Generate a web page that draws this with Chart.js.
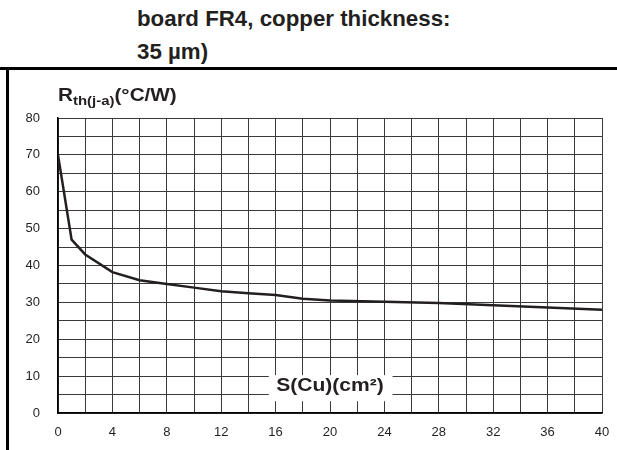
<!DOCTYPE html>
<html>
<head>
<meta charset="utf-8">
<script src="https://cdn.jsdelivr.net/npm/chart.js@4/dist/chart.umd.min.js"></script>
<style>
  html, body { margin: 0; padding: 0; background: #fff; }
  #wrap { position: relative; width: 617px; height: 450px; overflow: hidden; }
  .t { position: absolute; left: 137px; font: bold 22.3px "Liberation Sans", Arial, sans-serif; color: #231f20; white-space: nowrap; }
  #hline { position: absolute; left: 0; top: 67px; width: 617px; height: 3px; background: #000; }
  #vline { position: absolute; left: 6px; top: 67px; width: 3px; height: 383px; background: #000; }
  canvas { position: absolute; left: 0; top: 0; }
</style>
</head>
<body>
<div id="wrap">
  <div class="t" style="top:6px">board FR4, copper thickness:</div>
  <div class="t" style="top:39px">35 µm)</div>
  <div id="hline"></div>
  <div id="vline"></div>
  <canvas id="c" width="617" height="450"></canvas>
</div>
<script>
// Copper area S(Cu) in cm²
const areaCm2 = [0, 1, 2, 4, 6, 8, 10, 12, 14, 16, 18, 20, 24, 28, 32, 36, 40];
// Rth(j-a) in °C/W
const rthJA = [70, 47, 43, 38.2, 36, 35, 34, 33, 32.5, 32, 31, 30.5, 30.2, 29.8, 29.2, 28.6, 28];
const yAxisTitleMain = "R";
const yAxisTitleSub = "th(j-a)";
const yAxisTitleUnit = "(°C/W)";
const xAxisTitle = "S(Cu)(cm²)";

const FONT = '"Liberation Sans", Arial, sans-serif';

const labelsPlugin = {
  id: 'labelsPlugin',
  afterDatasetsDraw(chart) {
    const ctx = chart.ctx;
    const xs = chart.scales.x, ys = chart.scales.y;
    ctx.save();
    ctx.fillStyle = '#231f20';
    ctx.textBaseline = 'alphabetic';
    ctx.textAlign = 'left';
    // Y axis title with subscript
    const x0 = chart.chartArea.left;
    const sx = 1.15;
    ctx.translate(x0, 101);
    ctx.scale(sx, 1);
    ctx.font = 'bold 18px ' + FONT;
    ctx.fillText(yAxisTitleMain, 0, 0);
    let w = ctx.measureText(yAxisTitleMain).width;
    ctx.font = 'bold 13px ' + FONT;
    ctx.fillText(yAxisTitleSub, w, 4);
    w += ctx.measureText(yAxisTitleSub).width;
    ctx.font = 'bold 18px ' + FONT;
    ctx.fillText(yAxisTitleUnit, w, 0);
    ctx.restore();

    // X axis title in white box inside plot
    ctx.save();
    const bx0 = xs.getPixelForValue(15.5), bx1 = xs.getPixelForValue(24.6);
    const by0 = ys.getPixelForValue(10) - 1, by1 = ys.getPixelForValue(3.2);
    ctx.fillStyle = '#fff';
    ctx.fillRect(bx0, by0, bx1 - bx0, by1 - by0);
    ctx.fillStyle = '#231f20';
    ctx.font = 'bold 18px ' + FONT;
    ctx.textAlign = 'center';
    ctx.textBaseline = 'middle';
    ctx.translate(xs.getPixelForValue(20), ys.getPixelForValue(7.3));
    ctx.scale(1.17, 1);
    ctx.fillText(xAxisTitle, 0, 0);
    ctx.restore();
  }
};

new Chart(document.getElementById('c'), {
  type: 'line',
  data: {
    datasets: [{
      data: areaCm2.map((x, i) => ({ x: x, y: rthJA[i] })),
      borderColor: '#231f20',
      borderWidth: 2.5,
      pointRadius: 0,
      tension: 0,
      fill: false
    }]
  },
  options: {
    responsive: false,
    animation: false,
    devicePixelRatio: 1,
    layout: { padding: { top: 118, right: 15, left: 0, bottom: 0 } },
    plugins: { legend: { display: false }, tooltip: { enabled: false }, title: { display: false } },
    scales: {
      x: {
        type: 'linear', min: 0, max: 40,
        afterFit(s) { s.height = 37; s.paddingRight = 0; s.paddingLeft = 0; },
        ticks: {
          stepSize: 2, autoSkip: false, maxRotation: 0, padding: 12,
          color: '#231f20', font: { family: FONT, size: 13 },
          callback: v => (v % 4 === 0 ? String(v) : '')
        },
        grid: { color: '#3a3a3a', lineWidth: 1, drawTicks: false },
        border: { color: '#000', width: 1.5 }
      },
      y: {
        min: 0, max: 80,
        afterFit(s) { s.width = 58; s.paddingTop = 0; s.paddingBottom = 0; },
        ticks: {
          stepSize: 5, autoSkip: false, padding: 18,
          color: '#231f20', font: { family: FONT, size: 13 },
          callback: v => (v % 10 === 0 ? String(v) : '')
        },
        grid: { color: '#3a3a3a', lineWidth: 1, drawTicks: false },
        border: { color: '#000', width: 1.5 }
      }
    }
  },
  plugins: [labelsPlugin]
});
</script>
</body>
</html>
